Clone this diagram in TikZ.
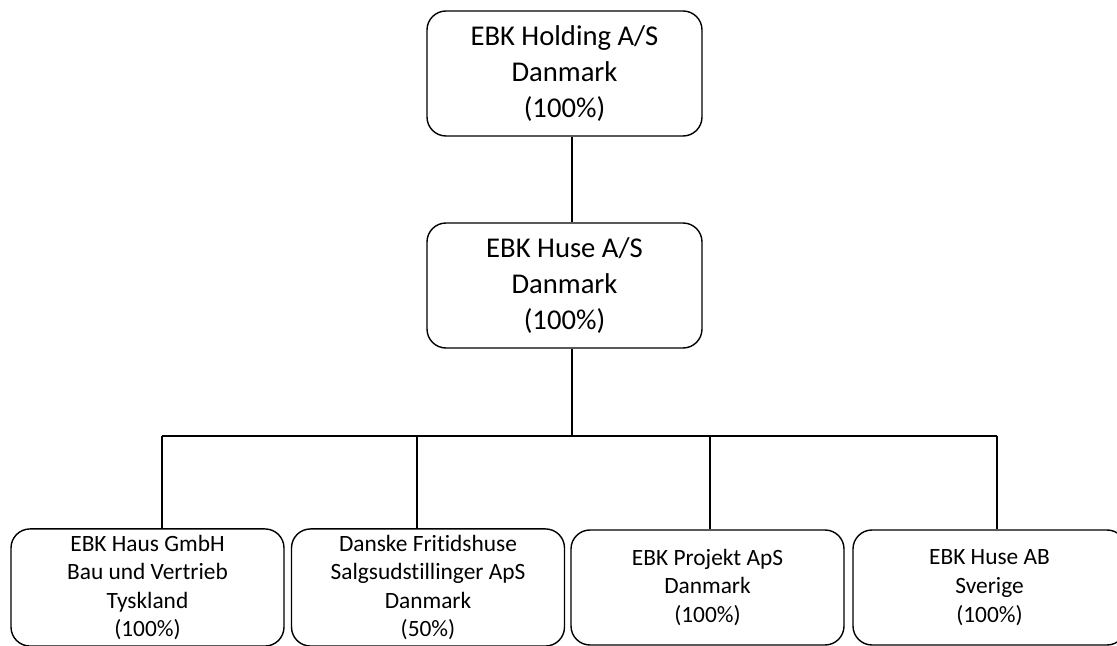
\documentclass[tikz,border=0pt]{standalone}
\usepackage{fontspec}
\setmainfont{Carlito}[Ligatures=NoCommon]
\usetikzlibrary{positioning, calc}
\tikzstyle{parent} = [rectangle, rounded corners=0.38cm, minimum width=5.5cm, minimum height=2.5cm, align=center, draw=black, line width=0.8pt, font=\fontsize{16.3}{20.4}\selectfont]
\tikzstyle{subsidiary} = [rectangle, rounded corners=0.38cm, minimum width=5.46cm, minimum height=2.3cm, align=center, draw=black, line width=0.8pt, font=\fontsize{13.3}{16.3}\selectfont]
\tikzstyle{link} = [line width=0.8pt]
\begin{document}
\begin{tikzpicture}
    \clip (0,0) rectangle (22.34,12.9);

    % Holding and parent company
    \node[parent] (holding) at (11.29, 11.43) {EBK Holding A/S\\Danmark\\(100\%)};
    \node[parent] (huse) at (11.29, 7.19) {EBK Huse A/S\\Danmark\\(100\%)};

    % Subsidiaries
    \node[subsidiary] (haus) at (2.95, 1.15) {EBK Haus GmbH\\Bau und Vertrieb\\Tyskland\\(100\%)};
    \node[subsidiary] (fritid) at (8.56, 1.15) {Danske Fritidshuse\\Salgsudstillinger ApS\\Danmark\\(50\%)};
    \node[subsidiary] (projekt) at (14.15, 1.15) {EBK Projekt ApS\\Danmark\\(100\%)};
    \node[subsidiary] (sverige) at (19.79, 1.15) {EBK Huse AB\\Sverige\\(100\%)};

    % Bar points
    \coordinate (trunk) at (11.44, 4.18);
    \coordinate (d1) at (3.24, 4.18);
    \coordinate (d2) at (8.34, 4.18);
    \coordinate (d3) at (14.2, 4.18);
    \coordinate (d4) at (19.94, 4.18);

    % Connectors
    \draw[link] (trunk |- holding.south) -- (trunk |- huse.north);
    \draw[link] (trunk |- huse.south) -- (trunk);
    \draw[link] (d1) -- (d4);
    \foreach \d/\b in {d1/haus, d2/fritid, d3/projekt, d4/sverige}
        \draw[link] (\d) -- (\d |- \b.north);
\end{tikzpicture}
\end{document}
